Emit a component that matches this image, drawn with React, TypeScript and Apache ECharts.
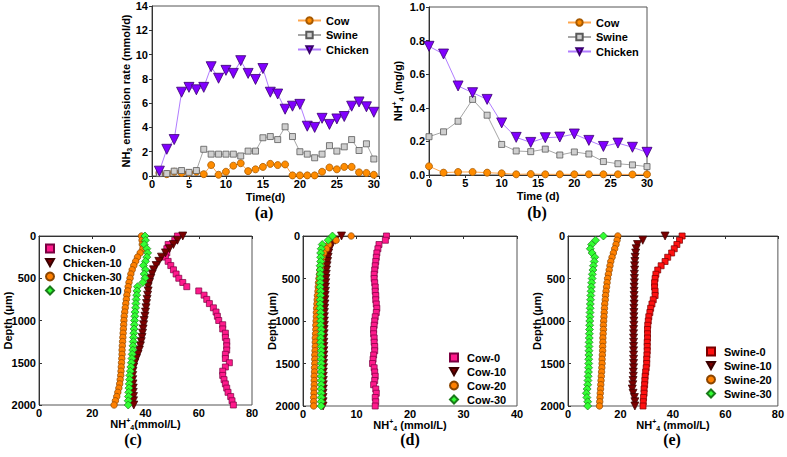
import React, { useEffect, useRef } from "react";
import * as echarts from "echarts";

// ---------- data ----------
const TIME_A = [1, 2, 3, 4, 5, 6, 7, 8, 9, 10, 11, 12, 13, 14, 15, 16, 17, 18, 19, 20, 21, 22, 23, 24, 25, 26, 27, 28, 29, 30];
const COW_A = [0.25, 0.15, 0.35, 0.25, 0.25, 0.35, 0.15, 0.9, 0.1, 0.35, 0.85, 1.05, 0.4, 0.55, 0.75, 1.0, 0.9, 0.95, 0.05, 0.05, 0.05, 0.05, 0.35, 0.7, 0.55, 0.75, 0.75, 0.3, 0.25, 0.1];
const SWINE_A = [0.2, 0.2, 0.4, 0.45, 0.3, 0.45, 2.2, 1.8, 1.8, 1.8, 1.8, 1.65, 2.05, 2.05, 3.15, 3.25, 3.0, 4.05, 3.25, 2.0, 1.8, 1.5, 1.8, 2.5, 2.05, 2.4, 3.0, 2.1, 2.65, 1.4];
const CHICKEN_A = [0.4, 2.2, 3.0, 6.9, 7.3, 7.1, 7.3, 9.0, 8.05, 8.7, 8.45, 9.5, 8.45, 7.95, 8.85, 6.9, 6.75, 5.5, 5.75, 5.9, 4.1, 4.0, 4.75, 4.25, 4.7, 4.9, 5.75, 6.1, 5.7, 5.25];

const TIME_B = [0, 2, 4, 6, 8, 10, 12, 14, 16, 18, 20, 22, 24, 26, 28, 30];
const COW_B = [0.052, 0.014, 0.018, 0.018, 0.014, 0.01, 0.004, 0.006, 0.004, 0.004, 0.004, 0.004, 0.004, 0.004, 0.003, 0.004];
const SWINE_B = [0.228, 0.257, 0.32, 0.45, 0.356, 0.182, 0.143, 0.139, 0.154, 0.119, 0.137, 0.125, 0.08, 0.067, 0.06, 0.05];
const CHICKEN_B = [0.766, 0.72, 0.53, 0.49, 0.45, 0.31, 0.224, 0.194, 0.222, 0.226, 0.244, 0.206, 0.17, 0.19, 0.165, 0.135];

const DEPTH = [0, 50, 100, 150, 200, 250, 300, 350, 400, 450, 500, 550, 600, 650, 700, 750, 800, 850, 900, 950, 1000, 1050, 1100, 1150, 1200, 1250, 1300, 1350, 1400, 1450, 1500, 1550, 1600, 1650, 1700, 1750, 1800, 1850, 1900, 1950, 2000];

const CHICKEN_0 = [52, 51, 48.5, 48, 48, 47.5, 48.5, 49.5, 50.5, 51.5, 52.5, 54, 55.5, 60, 62, 63, 64, 65.5, 66.5, 67, 67.5, 69, 69, 70, 70, 70.5, 70.5, 70.5, 70, 70, 71.5, 70, 69, 69, 69.5, 70, 70.5, 71, 72, 72.5, 73];
const CHICKEN_10 = [54, 52, 50.5, 49, 47.5, 46, 45, 44, 43, 42.5, 42, 41.5, 41, 41, 40.8, 40.6, 40.4, 40.2, 40, 39.8, 39.5, 39.3, 39.1, 38.9, 38.7, 38.4, 38.1, 37.7, 37.2, 36.6, 36, 35.6, 35.3, 35.2, 35.2, 35.3, 35.4, 35.4, 35.5, 35.5, 35.6];
const CHICKEN_30 = [38.5, 38.7, 38.8, 39, 38, 37, 36.3, 35.6, 35, 34.5, 34.2, 33.8, 33.5, 33.3, 33, 32.8, 32.6, 32.4, 32.2, 32, 31.9, 31.8, 31.7, 31.6, 31.5, 31.4, 31.3, 31.2, 31.2, 31.1, 31, 30.9, 30.8, 30.7, 30.5, 30.3, 30, 29.6, 29.2, 28.7, 28.2];
const CHICKEN_10B = [39.8, 40, 39.5, 40.5, 40.8, 40.5, 40, 39.2, 40, 39.5, 39.8, 39, 37, 36.8, 36.7, 36.5, 36.4, 36.3, 36.1, 36, 35.9, 35.8, 35.7, 35.6, 35.5, 35.4, 35.3, 35.2, 35, 34.9, 34.7, 34.5, 34.3, 34.1, 34, 33.9, 33.8, 33.7, 33.6, 33.5, 33.5];

const COW_0 = [15.6, 15.4, 14.2, 14, 13.8, 13.7, 13.6, 13.5, 13.4, 13.3, 13.3, 13.4, 13.5, 13.5, 13.6, 13.6, 13.7, 13.8, 13.7, 13.5, 13.4, 13.3, 13.2, 13.2, 13.3, 13.3, 13.4, 13.4, 13.2, 13.1, 13, 13.3, 13.4, 13.5, 13.4, 13.2, 13.6, 13.7, 13.5, 13.6, 13.5];
const COW_10 = [7.2, 6, 5.3, 5, 4.8, 4.7, 4.6, 4.5, 4.4, 4.35, 4.3, 4.25, 4.2, 4.2, 4.15, 4.1, 4.1, 4.05, 4, 4, 4, 4, 3.95, 3.95, 3.9, 3.9, 3.9, 3.9, 3.9, 3.85, 3.85, 3.85, 3.8, 3.8, 3.8, 3.8, 3.8, 3.75, 3.75, 3.75, 3.75];
const COW_20 = [9, 6.2, 4.8, 4.4, 3.9, 3.6, 3.4, 3.3, 3.2, 3.1, 3, 2.9, 2.85, 2.8, 2.7, 2.65, 2.6, 2.55, 2.5, 2.5, 2.45, 2.4, 2.4, 2.35, 2.3, 2.3, 2.3, 2.25, 2.2, 2.2, 2.2, 2.15, 2.15, 2.1, 2.1, 2.1, 2.05, 2.05, 2, 2, 2];
const COW_30 = [5.5, 4.7, 3.6, 3.4, 3.3, 3.3, 3.3, 3.2, 3.2, 3.2, 3.2, 3.2, 3.2, 3.3, 3.3, 3.2, 3.2, 3.2, 3.3, 3.3, 3.3, 3.3, 3.4, 3.4, 3.3, 3.3, 3.4, 3.4, 3.4, 3.4, 3.4, 3.4, 3.4, 3.4, 3.4, 3.4, 3.4, 3.4, 3.4, 3.4, 3.4];

const SWINE_0 = [43.5, 42.5, 41.5, 40.5, 39.5, 38, 37, 35.5, 34.2, 33.5, 33.2, 33, 33, 33.2, 33.2, 32.5, 32, 31.5, 31.2, 30.8, 30.6, 30.4, 30.3, 30.3, 30.3, 30.2, 30.2, 30.2, 30.1, 30, 30, 29.8, 29.6, 29.4, 29.3, 29.2, 29, 29, 28.8, 28.7, 28.6];
const SWINE_10 = [37, 28.5, 26.5, 26, 25.8, 25.6, 25.5, 25.4, 25.4, 25.3, 25.3, 25.3, 25.2, 25.2, 25.2, 25.2, 25.2, 25.1, 25.1, 25.1, 25.1, 25.1, 25, 25, 25, 25, 25, 25, 25, 25, 25, 25, 24.9, 24.9, 24.8, 24.7, 24.5, 24.8, 25.3, 25.5, 25.5];
const SWINE_20 = [19, 18.7, 18.3, 17.8, 17.3, 16.8, 16.3, 16, 15.7, 15.4, 15.1, 14.9, 14.7, 14.5, 14.3, 14.2, 14, 13.9, 13.8, 13.7, 13.6, 13.5, 13.5, 13.4, 13.3, 13.3, 13.2, 13.2, 13.1, 13, 13, 12.9, 12.8, 12.7, 12.6, 12.5, 12.4, 12.3, 12.2, 12.1, 12];
const SWINE_30 = [13.5, 10.5, 9, 8.5, 9.2, 10.2, 10, 9.7, 9.5, 9.3, 9.2, 9, 8.9, 8.8, 8.7, 8.6, 8.5, 8.45, 8.4, 8.35, 8.3, 8.25, 8.2, 8.15, 8.1, 8.05, 8, 8, 7.95, 7.9, 7.9, 7.85, 7.8, 7.7, 7.6, 7.5, 7.3, 7, 7.2, 7.5, 7.5];

// ---------- styling ----------
const SANS = '"Liberation Sans", Arial, sans-serif';
const SERIF = '"Liberation Serif", "Times New Roman", serif';
const TRI_DOWN = "path://M0,0 L10,0 L5,9 Z";
const BOLD = { fontFamily: SANS, fontWeight: "bold" as const, fontSize: 11, color: "#000" };

const RICH = {
  n: { fontFamily: SANS, fontWeight: "bold", fontSize: 11, color: "#000", lineHeight: 14, verticalAlign: "middle" },
  sb: { fontFamily: SANS, fontWeight: "bold", fontSize: 7, color: "#000", lineHeight: 7, verticalAlign: "bottom" },
  sp: { fontFamily: SANS, fontWeight: "bold", fontSize: 7, color: "#000", lineHeight: 7, verticalAlign: "top" },
};

function lineSeries(name: string, xs: number[], ys: number[], idx: number, symbol: string, size: number, fill: string, border: string, line: string) {
  return {
    type: "line",
    name,
    xAxisIndex: idx,
    yAxisIndex: idx,
    data: xs.map((x, i) => [x, ys[i]]),
    symbol,
    symbolSize: size,
    showAllSymbol: true,
    lineStyle: { color: line, width: 1 },
    itemStyle: { color: fill, borderColor: border, borderWidth: 0.8 },
    z: 3,
  };
}

function depthSeries(name: string, vals: number[], idx: number, symbol: string, size: number, fill: string, border: string) {
  return {
    type: "scatter",
    name,
    xAxisIndex: idx,
    yAxisIndex: idx,
    data: DEPTH.map((d, i) => [vals[i], d]),
    symbol,
    symbolSize: size,
    itemStyle: { color: fill, borderColor: border, borderWidth: 0.7, opacity: 1 },
  };
}

function xAxisCommon(idx: number, min: number, max: number, interval: number, name: string, nameGap: number, labelMargin: number) {
  return {
    type: "value",
    gridIndex: idx,
    min,
    max,
    interval,
    position: "bottom",
    name,
    nameLocation: "middle",
    nameGap,
    nameMoveOverlap: false,
    nameTextStyle: { ...BOLD, rich: RICH },
    axisLine: { show: true, lineStyle: { color: "#333", width: 1 } },
    axisTick: { show: true, inside: false, length: 3, lineStyle: { color: "#333" } },
    axisLabel: {
      ...BOLD,
      lineHeight: 12,
      margin: labelMargin,
      formatter: (v: number) => (Math.abs(v / interval - Math.round(v / interval)) < 1e-6 ? String(v) : ""),
    },
    splitLine: { show: false },
  };
}

function yAxisCommon(idx: number, min: number, max: number, interval: number, name: string, nameGap: number, inverse: boolean, fmt: (v: number) => string) {
  return {
    type: "value",
    gridIndex: idx,
    min,
    max,
    interval,
    inverse,
    name,
    nameLocation: "middle",
    nameGap,
    nameRotate: 90,
    nameMoveOverlap: false,
    nameTextStyle: { ...BOLD, rich: RICH },
    axisLine: { show: true, lineStyle: { color: "#333", width: 1 } },
    axisTick: { show: true, inside: inverse, length: 3, lineStyle: { color: "#333" } },
    axisLabel: { ...BOLD, margin: inverse ? 3 : 4, formatter: fmt },
    splitLine: { show: false },
  };
}

const gridStyle = { show: true, borderColor: "#555", borderWidth: 1, backgroundColor: "transparent", containLabel: false };

function topLegend(left: number, top: number) {
  return {
    data: ["Cow", "Swine", "Chicken"],
    orient: "vertical",
    left,
    top,
    padding: 0,
    itemWidth: 23,
    itemHeight: 8,
    itemGap: 3.5,
    textStyle: { ...BOLD, fontSize: 11 },
  };
}

function depthLegend(names: string[], left: number, top: number) {
  return {
    data: names,
    orient: "vertical",
    left,
    top,
    padding: 0,
    itemWidth: 8,
    itemHeight: 8,
    itemGap: 3,
    formatter: (n: string) => n.trim(),
    textStyle: { ...BOLD, fontSize: 11, padding: [0, 0, 0, 4] },
  };
}

const plain = (v: number) => String(v);

const App: React.FC = () => {
  const ref = useRef<HTMLDivElement>(null);

  useEffect(() => {
    if (!ref.current) return;
    const chart = echarts.init(ref.current, undefined, { renderer: "svg" });

    const option: any = {
      animation: false,
      backgroundColor: "#fff",
      textStyle: { fontFamily: SANS },
      grid: [
        { ...gridStyle, left: 152, top: 6, width: 227, height: 170 },
        { ...gridStyle, left: 429, top: 7, width: 218, height: 168 },
        { ...gridStyle, left: 39, top: 236, width: 213, height: 169 },
        { ...gridStyle, left: 303, top: 236, width: 214, height: 170 },
        { ...gridStyle, left: 568, top: 236, width: 212, height: 170 },
      ],
      xAxis: [
        xAxisCommon(0, 0, 30.7, 5, "Time(d)", 15, 2),
        xAxisCommon(1, 0, 30, 5, "Time (d)", 15, 2),
        xAxisCommon(2, 0, 80, 20, "{n|NH}{sp|+}{sb|4}{n|(mmol/L)}", 12, 2),
        xAxisCommon(3, 0, 40, 10, "{n|NH}{sp|+}{sb|4}{n| (mmol/L)}", 12, 2),
        xAxisCommon(4, 0, 80, 20, "{n|NH}{sp|+}{sb|4}{n| (mmol/L)}", 12, 2),
      ],
      yAxis: [
        yAxisCommon(0, 0, 14, 2, "{n|NH}{sb|3}{n| emmission rate (mmol/d)}", 19, false, plain),
        yAxisCommon(1, 0, 1, 0.2, "{n|NH}{sp|+}{sb|4}{n| (mg/g)}", 24, false, (v: number) => v.toFixed(1)),
        yAxisCommon(2, 0, 2000, 500, "Depth (\u03bcm)", 26, true, plain),
        yAxisCommon(3, 0, 2000, 500, "Depth (\u03bcm)", 26, true, plain),
        yAxisCommon(4, 0, 2000, 500, "Depth (\u03bcm)", 26, true, plain),
      ],
      legend: [
        topLegend(297, 15),
        topLegend(567, 17),
        depthLegend(["Chicken-0", "Chicken-10", "Chicken-30", "Chicken-10 "], 45, 243),
        depthLegend(["Cow-0", "Cow-10", "Cow-20", "Cow-30"], 449, 352),
        depthLegend(["Swine-0", "Swine-10", "Swine-20", "Swine-30"], 706, 346),
      ],
      series: [
        lineSeries("Cow", TIME_A, COW_A, 0, "circle", 7, "#ff8c00", "#a85a00", "#ffa64d"),
        lineSeries("Swine", TIME_A, SWINE_A, 0, "rect", 6, "#cfcfcf", "#5a5a5a", "#a6a6a6"),
        lineSeries("Chicken", TIME_A, CHICKEN_A, 0, TRI_DOWN, 10, "#8000ff", "#3a0070", "#b07cff"),
        lineSeries("Cow", TIME_B, COW_B, 1, "circle", 7, "#ff8c00", "#a85a00", "#ffa64d"),
        lineSeries("Swine", TIME_B, SWINE_B, 1, "rect", 6, "#cfcfcf", "#5a5a5a", "#a6a6a6"),
        lineSeries("Chicken", TIME_B, CHICKEN_B, 1, TRI_DOWN, 10, "#8000ff", "#3a0070", "#b07cff"),

        depthSeries("Chicken-0", CHICKEN_0, 2, "rect", 6, "#ff1a8c", "#7a0040"),
        depthSeries("Chicken-10", CHICKEN_10, 2, TRI_DOWN, 8, "#7a0000", "#3a0000"),
        depthSeries("Chicken-30", CHICKEN_30, 2, "circle", 6.5, "#ff8000", "#8a4500"),
        depthSeries("Chicken-10 ", CHICKEN_10B, 2, "diamond", 8, "#33ff33", "#1a7a1a"),

        depthSeries("Cow-0", COW_0, 3, "rect", 6, "#ff1a8c", "#7a0040"),
        depthSeries("Cow-10", COW_10, 3, TRI_DOWN, 8, "#7a0000", "#3a0000"),
        depthSeries("Cow-20", COW_20, 3, "circle", 6.5, "#ff8000", "#8a4500"),
        depthSeries("Cow-30", COW_30, 3, "diamond", 8, "#33ff33", "#1a7a1a"),

        depthSeries("Swine-0", SWINE_0, 4, "rect", 6, "#ff1010", "#7a0000"),
        depthSeries("Swine-10", SWINE_10, 4, TRI_DOWN, 8, "#7a0000", "#3a0000"),
        depthSeries("Swine-20", SWINE_20, 4, "circle", 6.5, "#ff8000", "#8a4500"),
        depthSeries("Swine-30", SWINE_30, 4, "diamond", 8, "#33ff33", "#1a7a1a"),
      ],
      graphic: [
        { type: "text", x: 264, y: 212, style: { text: "(a)", font: `bold 16px ${SERIF}`, fill: "#000", textAlign: "center", textVerticalAlign: "middle" } },
        { type: "text", x: 537, y: 212, style: { text: "(b)", font: `bold 16px ${SERIF}`, fill: "#000", textAlign: "center", textVerticalAlign: "middle" } },
        { type: "text", x: 133, y: 439, style: { text: "(c)", font: `bold 16px ${SERIF}`, fill: "#000", textAlign: "center", textVerticalAlign: "middle" } },
        { type: "text", x: 410, y: 439, style: { text: "(d)", font: `bold 16px ${SERIF}`, fill: "#000", textAlign: "center", textVerticalAlign: "middle" } },
        { type: "text", x: 672, y: 439, style: { text: "(e)", font: `bold 16px ${SERIF}`, fill: "#000", textAlign: "center", textVerticalAlign: "middle" } },
      ],
    };

    chart.setOption(option);
    return () => chart.dispose();
  }, []);

  return <div ref={ref} style={{ position: "fixed", left: 0, top: 0, width: 787, height: 457 }} />;
};

export default App;
